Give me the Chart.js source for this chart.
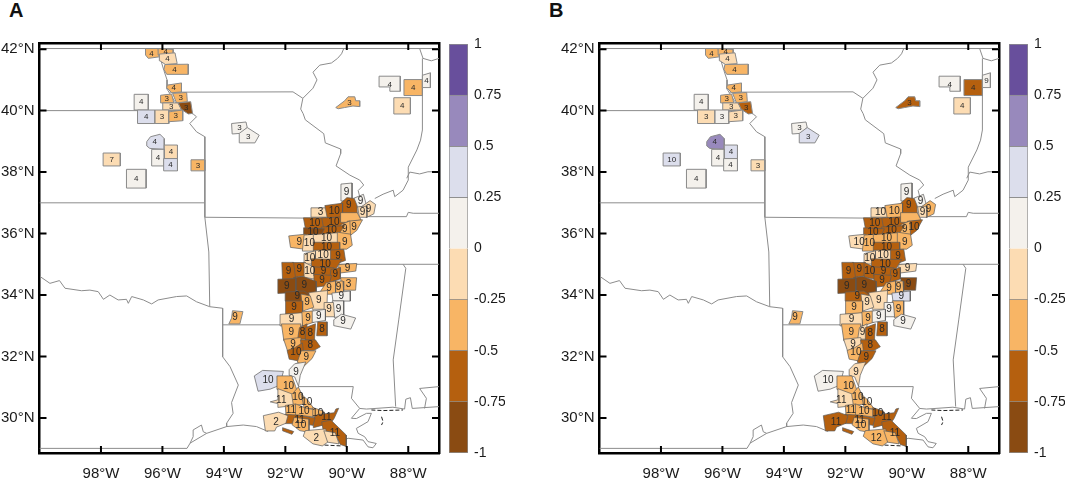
<!DOCTYPE html>
<html>
<head>
<meta charset="utf-8">
<script src="https://cdn.jsdelivr.net/npm/chart.js@4"></script>
<style>
  html, body { margin: 0; padding: 0; background: #fff; overflow: hidden; }
  body { position: relative; width: 1065px; height: 483px; font-family: "Liberation Sans", sans-serif; }
  canvas { position: absolute; top: 0; }
  .letra { position: absolute; top: 0; font: bold 20px/20px "Liberation Sans", sans-serif; color: #111; }
</style>
</head>
<body>
<div class="letra" style="left:9px">A</div>
<div class="letra" style="left:549px">B</div>
<canvas id="mapaA" width="445" height="483" style="left:0"></canvas>
<canvas id="barraA" width="56" height="483" style="left:449px"></canvas>
<canvas id="mapaB" width="445" height="483" style="left:560px"></canvas>
<canvas id="barraB" width="56" height="483" style="left:1009px"></canvas>
<script>
const lonTicks = [-98, -96, -94, -92, -90, -88]
const latTicks = [30, 32, 34, 36, 38, 40, 42]
const binEdges = [-1, -0.75, -0.5, -0.25, 0, 0.25, 0.5, 0.75, 1]
const binColors = ['#8a4b12', '#b5600f', '#f8b565', '#fcdcb3', '#f4f1ec', '#dcdeec', '#9889bc', '#684f9c']

// state lines and coast, [lon, lat]
const stateLines = [
  [[-100, 42.02], [-87, 42.02]],
  [[-100, 29.01], [-95.2, 29.01]],
  [[-100, 40], [-95.31, 40]],
  [[-100, 37], [-94.62, 37]],
  [[-96.2, 42.02], [-96.1, 41.8], [-95.95, 41.3], [-95.85, 41], [-95.85, 40.7], [-95.6, 40.3], [-95.31, 40], [-95, 39.89], [-94.89, 39.8], [-95.11, 39.58], [-94.89, 39.31], [-94.62, 39.15], [-94.62, 36.53], [-94.49, 35.4], [-94.46, 33.62]],
  [[-95.77, 40.6], [-91.75, 40.61], [-91.43, 40.4]],
  [[-90.1, 42.02], [-90.17, 41.85], [-90.3, 41.7], [-90.5, 41.55], [-90.88, 41.48], [-91.1, 41.25], [-90.97, 41], [-91.1, 40.73], [-91.43, 40.4], [-91.5, 40.05], [-91.42, 39.9], [-91.35, 39.7], [-90.75, 39.25], [-90.7, 38.95], [-90.2, 38.75], [-90.2, 38.6], [-90.35, 38.2], [-89.9, 37.9], [-89.58, 37.74], [-89.45, 37.58], [-89.63, 37.4], [-89.58, 37.2]],
  [[-89.09, 37.14], [-88.82, 37.28], [-88.49, 37.41], [-88.44, 37.2], [-88.17, 37.41], [-88, 37.74], [-88, 38.16], [-87.72, 38.72], [-87.6, 39.04], [-87.54, 39.37], [-87.54, 41.7]],
  [[-88.05, 37.8], [-87.95, 38], [-87.63, 37.94], [-87.36, 38.01], [-87, 38.01]],
  [[-87.63, 42.02], [-87.52, 41.7], [-87.25, 41.62], [-87, 41.7]],
  [[-89.3, 36.55], [-88.06, 36.55], [-88, 36.69], [-87.84, 36.66], [-87, 36.66]],
  [[-94.62, 36.53], [-91, 36.5]],
  [[-90.3, 35], [-87, 35]],
  [[-88.17, 35], [-88.08, 34.87], [-88.31, 33.19], [-88.49, 31.89], [-88.41, 30.37]],
  [[-99.98, 34.6], [-99.66, 34.38], [-99.35, 34.47], [-99.17, 34.22], [-98.63, 34.14], [-98.36, 34.16], [-98.09, 34.11], [-97.92, 33.86], [-97.71, 34], [-97.44, 33.84], [-97.17, 33.86], [-97.11, 33.73], [-97, 33.95], [-96.62, 33.84], [-96.35, 33.71], [-96.14, 33.84], [-95.54, 33.95], [-95.21, 33.97], [-94.89, 33.78], [-94.46, 33.62], [-94.04, 33.57], [-94.04, 31.99], [-93.8, 31.67], [-93.53, 31.07], [-93.75, 30.5], [-93.7, 30.15], [-93.91, 29.83], [-93.91, 29.72]],
  [[-94.04, 33.03], [-92, 33.03]],
  [[-95.2, 29.01], [-95.1, 29.18], [-94.56, 29.5], [-93.91, 29.72], [-93.37, 29.77], [-92.94, 29.72], [-92.56, 29.56]],
  [[-95.1, 29.18], [-95, 29.39], [-95, 29.61], [-94.73, 29.77], [-94.67, 29.55], [-94.56, 29.5]],
  [[-91.58, 31.02], [-89.79, 31.02], [-89.85, 30.64], [-89.58, 30.31], [-89.36, 30.29], [-88.5, 30.35], [-88.12, 30.29], [-88.08, 30.61], [-87.93, 30.66], [-87.87, 30.31], [-86.98, 30.37]],
  [[-87, 31.02], [-87.63, 30.96], [-87.41, 30.64], [-87.47, 30.31]],
  [[-89.58, 30.31], [-89.85, 29.99], [-89.69, 29.98], [-89.36, 30.15], [-89.2, 30.15], [-89.31, 29.88], [-89.69, 29.66], [-89.63, 29.5], [-89.42, 29.39], [-89.31, 29.23], [-89.04, 29.17], [-89.15, 29.03], [-89.31, 29.06], [-89.47, 29.28], [-89.96, 29.34], [-90.07, 29.28]]
]
const dashedLines = [
  [[-89.2, 30.26], [-88.82, 30.24], [-88.17, 30.26]],
  [[-88.87, 30.04], [-88.82, 29.88], [-88.87, 29.77]],
  [[-91.31, 29.56], [-91.09, 29.23], [-90.77, 29.12], [-90.17, 29.09]]
]

// county outlines, [lon, lat], same order as the value and label lists below
const countyShapes = [
  [[-96.55, 42.02], [-96.14, 42.02], [-96.1, 41.75], [-96.46, 41.7], [-96.55, 41.81]],
  [[-96.14, 42.02], [-95.65, 41.99], [-95.65, 41.84], [-96.14, 41.81]],
  [[-96.1, 41.84], [-95.59, 41.88], [-95.52, 41.53], [-95.9, 41.5], [-96.08, 41.62]],
  [[-95.92, 41.5], [-95.16, 41.51], [-95.16, 41.18], [-95.86, 41.18], [-95.95, 41.34]],
  [[-95.84, 40.83], [-95.38, 40.9], [-95.38, 40.61], [-95.7, 40.58], [-95.86, 40.75]],
  [[-96.06, 40.5], [-95.7, 40.54], [-95.63, 40.25], [-96.06, 40.25]],
  [[-95.67, 40.56], [-95.21, 40.59], [-95.19, 40.29], [-95.54, 40.25]],
  [[-95.99, 40.25], [-95.49, 40.25], [-95.38, 40.02], [-95.99, 40.02]],
  [[-95.49, 40.25], [-95.08, 40.29], [-95.02, 39.91], [-95.16, 39.89], [-95.38, 40.04]],
  [[-96.92, 40.53], [-96.46, 40.53], [-96.46, 40.02], [-96.92, 40.02]],
  [[-96.81, 40.02], [-96.24, 40.02], [-96.24, 39.58], [-96.81, 39.58]],
  [[-96.24, 40.02], [-95.79, 40.02], [-95.79, 39.58], [-96.24, 39.58]],
  [[-95.79, 39.96], [-95.34, 40.02], [-95.34, 39.67], [-95.79, 39.64]],
  [[-96.51, 38.99], [-96.39, 39.15], [-96.08, 39.23], [-95.94, 39.09], [-95.94, 38.74], [-96.41, 38.77], [-96.51, 38.85]],
  [[-95.94, 38.88], [-95.51, 38.88], [-95.51, 38.44], [-95.94, 38.44]],
  [[-96.35, 38.74], [-95.94, 38.74], [-95.94, 38.2], [-96.35, 38.2]],
  [[-95.96, 38.44], [-95.51, 38.44], [-95.51, 38.04], [-95.96, 38.04]],
  [[-97.93, 38.62], [-97.37, 38.62], [-97.37, 38.2], [-97.93, 38.2]],
  [[-97.17, 38.09], [-96.53, 38.09], [-96.53, 37.48], [-97.17, 37.48]],
  [[-95.07, 38.4], [-94.62, 38.4], [-94.62, 38.04], [-95.07, 38.04]],
  [[-93.75, 39.58], [-93.28, 39.63], [-93.24, 39.45], [-93.46, 39.26], [-93.73, 39.24]],
  [[-93.5, 39.26], [-93.24, 39.45], [-92.85, 39.2], [-92.99, 38.95], [-93.48, 38.95]],
  [[-90.36, 40.1], [-90.07, 40.32], [-89.96, 40.45], [-89.74, 40.45], [-89.71, 40.32], [-89.58, 40.32], [-89.58, 40.13], [-89.8, 40.15], [-90.07, 40.1], [-90.28, 40.06]],
  [[-88.95, 41.12], [-88.26, 41.12], [-88.26, 40.63], [-88.6, 40.63], [-88.6, 40.77], [-88.95, 40.77]],
  [[-88.14, 41.01], [-87.54, 41.01], [-87.54, 40.49], [-88.14, 40.49]],
  [[-88.47, 40.42], [-87.93, 40.42], [-87.93, 39.89], [-88.47, 39.89]],
  [[-87.54, 41.15], [-87.28, 41.23], [-87.28, 40.75], [-87.54, 40.75]],
  [[-93.72, 33.49], [-93.38, 33.46], [-93.48, 33.06], [-93.84, 33.06], [-93.75, 33.25]],

  [[-90.17, 37.58], [-89.85, 37.61], [-89.85, 37.11], [-90.17, 37.09]],
  [[-90.17, 36.98], [-89.99, 37.14], [-89.71, 37.11], [-89.69, 36.68], [-90.12, 36.66]],
  [[-89.74, 37.14], [-89.47, 37.25], [-89.38, 36.93], [-89.63, 36.87]],
  [[-89.49, 36.87], [-89.25, 37.04], [-89.09, 36.93], [-89.14, 36.66], [-89.36, 36.55], [-89.45, 36.71]],
  [[-89.63, 36.85], [-89.38, 36.87], [-89.36, 36.55], [-89.58, 36.55]],
  [[-91.13, 36.82], [-90.58, 36.82], [-90.58, 36.55], [-91.13, 36.55]],
  [[-90.68, 36.89], [-90.17, 36.96], [-90.17, 36.55], [-90.61, 36.53]],
  [[-91.37, 36.49], [-90.72, 36.49], [-90.77, 36.17], [-91.31, 36.17]],
  [[-90.77, 36.49], [-90.07, 36.53], [-90.12, 36.22], [-90.72, 36.22]],
  [[-90.17, 36.66], [-89.69, 36.66], [-89.58, 36.45], [-90, 36.38], [-90.17, 36.38]],
  [[-89.96, 36.38], [-89.52, 36.42], [-89.69, 36.11], [-89.9, 35.95]],
  [[-90.17, 36.28], [-89.92, 36.38], [-89.9, 35.95], [-90.28, 36.01]],
  [[-90.79, 36.2], [-90.12, 36.24], [-90.28, 36.01], [-90.82, 35.95]],
  [[-91.37, 36.17], [-90.77, 36.14], [-90.88, 35.92], [-91.37, 35.9]],
  [[-91.85, 35.9], [-91.37, 35.95], [-91.31, 35.68], [-91.42, 35.52], [-91.8, 35.57]],
  [[-91.37, 35.92], [-91.04, 35.95], [-91.04, 35.46], [-91.42, 35.46]],
  [[-91.04, 35.95], [-90.28, 36.01], [-90.28, 35.7], [-91.04, 35.7]],
  [[-90.28, 36.01], [-89.9, 35.95], [-89.85, 35.63], [-90.01, 35.52], [-90.28, 35.52]],
  [[-91.04, 35.7], [-90.28, 35.7], [-90.28, 35.44], [-91.04, 35.44]],
  [[-91.04, 35.44], [-90.5, 35.44], [-90.5, 35.16], [-91.04, 35.16]],
  [[-90.5, 35.44], [-90.12, 35.46], [-90.07, 35.14], [-90.23, 35.08], [-90.5, 35.16]],
  [[-91.37, 35.33], [-91.04, 35.41], [-91.04, 35.03], [-91.37, 35.03]],
  [[-91.1, 35.16], [-90.23, 35.14], [-90.39, 34.87], [-91.1, 34.9]],
  [[-90.23, 34.98], [-89.71, 35.01], [-89.74, 34.79], [-90.23, 34.73]],
  [[-91.75, 35.03], [-91.37, 35.03], [-91.37, 34.65], [-91.69, 34.6]],
  [[-92.09, 35.03], [-91.75, 35.03], [-91.69, 34.54], [-92.07, 34.54]],
  [[-91.37, 35.03], [-91.04, 34.87], [-91.04, 34.54], [-91.37, 34.6]],
  [[-91.04, 34.9], [-90.45, 34.87], [-90.5, 34.65], [-91.04, 34.65]],
  [[-90.5, 34.81], [-90.23, 34.87], [-90.23, 34.54], [-90.55, 34.43]],
  [[-91.04, 34.65], [-90.53, 34.62], [-90.61, 34.33], [-91.04, 34.27]],
  [[-90.17, 34.54], [-89.71, 34.54], [-89.74, 34.18], [-90.14, 34.18]],
  [[-90.42, 34.43], [-90.14, 34.43], [-90.12, 34.05], [-90.39, 34.05]],
  [[-90.66, 34.38], [-90.39, 34.43], [-90.39, 34.05], [-90.88, 34.05]],
  [[-91.69, 34.54], [-91.42, 34.57], [-91.04, 34.43], [-91.04, 34.05], [-91.42, 34.05], [-91.69, 34.22]],
  [[-92.21, 34.49], [-91.69, 34.51], [-91.69, 34.11], [-92.21, 34.08]],
  [[-91.96, 34.08], [-91.42, 34.11], [-91.26, 34], [-91.47, 33.78], [-91.94, 33.82]],
  [[-90.45, 34.05], [-89.92, 34.11], [-89.92, 33.82], [-90.42, 33.82]],
  [[-91.2, 34.05], [-90.66, 34.11], [-90.68, 33.57], [-91.1, 33.57]],
  [[-91.47, 34], [-91.2, 33.95], [-91.1, 33.62], [-91.42, 33.51]],
  [[-90.45, 33.78], [-90.12, 33.78], [-90.12, 33.35], [-90.39, 33.3]],
  [[-90.72, 33.73], [-90.45, 33.73], [-90.42, 33.32], [-90.72, 33.32]],
  [[-91.96, 33.78], [-91.47, 33.78], [-91.47, 33.43], [-91.96, 33.4]],
  [[-92.13, 33.35], [-91.47, 33.4], [-91.47, 33.02], [-92.13, 33.02]],
  [[-91.44, 33.43], [-91.1, 33.46], [-91.1, 33.13], [-91.42, 33.02]],
  [[-91.1, 33.46], [-90.72, 33.51], [-90.72, 33.19], [-91.1, 33.13]],
  [[-90.39, 33.19], [-90.17, 33.35], [-89.76, 33.24], [-89.9, 32.92], [-90.39, 33.02]],
  [[-90.93, 33.1], [-90.66, 33.1], [-90.66, 32.7], [-90.96, 32.7]],

  [[-92.09, 33.03], [-91.53, 33.03], [-91.58, 32.59], [-92.02, 32.54]],
  [[-91.53, 32.92], [-91.31, 33.03], [-91.33, 32.59], [-91.58, 32.59]],
  [[-91.33, 32.92], [-91.04, 33.03], [-91.07, 32.54], [-91.33, 32.56]],
  [[-92.02, 32.54], [-91.53, 32.59], [-91.47, 32.38], [-91.8, 32.21], [-91.91, 32.21]],
  [[-91.47, 32.52], [-91.04, 32.52], [-90.9, 32.32], [-91.09, 32.21], [-91.44, 32.21]],
  [[-91.91, 32.19], [-91.69, 32.27], [-91.47, 32.41], [-91.44, 32.16], [-91.58, 31.89], [-91.85, 31.94]],
  [[-91.47, 32.16], [-91.04, 32.16], [-91.15, 31.94], [-91.37, 31.73], [-91.58, 31.83]],
  [[-91.85, 31.56], [-91.69, 31.73], [-91.37, 31.78], [-91.53, 31.4], [-91.58, 31.08], [-91.69, 31.35], [-91.85, 31.4]],
  [[-92.96, 31.35], [-92.72, 31.51], [-92.12, 31.48], [-92.23, 31.08], [-92.5, 30.97], [-92.85, 30.91]],
  [[-92.23, 31.33], [-91.8, 31.33], [-91.69, 31.02], [-91.62, 30.81], [-91.8, 30.75], [-92.23, 30.94]],
  [[-92.23, 30.91], [-91.8, 30.75], [-91.75, 30.43], [-92.23, 30.37], [-92.23, 30.48], [-92.45, 30.53], [-92.23, 30.59]],
  [[-91.77, 30.75], [-91.58, 30.97], [-91.47, 30.75], [-91.42, 30.48], [-91.72, 30.43]],
  [[-91.47, 30.75], [-91.29, 30.59], [-91.09, 30.32], [-91.37, 30.32]],
  [[-91.98, 30.39], [-91.69, 30.43], [-91.64, 30.1], [-91.96, 30.1]],
  [[-91.64, 30.43], [-91.37, 30.32], [-91.09, 30.26], [-91.09, 30.05], [-91.53, 30.1], [-91.64, 30.1]],
  [[-91.09, 30.32], [-90.77, 30.21], [-90.82, 30.05], [-91.09, 30.05]],
  [[-90.93, 30.1], [-90.44, 30.15], [-90.39, 30.26], [-90.31, 30.28], [-90.44, 29.99], [-90.55, 29.83], [-90.82, 29.78], [-91.04, 29.72], [-91.04, 29.99]],
  [[-91.96, 30.1], [-91.53, 30.07], [-91.09, 29.99], [-91.15, 29.78], [-91.53, 29.83], [-91.96, 29.83]],
  [[-90.77, 29.83], [-90.5, 29.88], [-90.06, 29.45], [-90.06, 29.12], [-90.23, 29.18], [-90.39, 29.5], [-90.72, 29.56]],
  [[-91.69, 29.99], [-91.26, 29.94], [-91.26, 29.56], [-91.53, 29.61], [-91.75, 29.78]],
  [[-92.67, 30.05], [-92.23, 30.15], [-91.96, 30.05], [-92.02, 29.83], [-92.29, 29.72], [-92.34, 29.61], [-92.61, 29.61]],
  [[-92.07, 29.67], [-91.75, 29.56], [-91.8, 29.48], [-92.07, 29.58]],
  [[-91.31, 29.56], [-90.72, 29.61], [-90.66, 29.23], [-90.82, 29.12], [-91.09, 29.18], [-91.37, 29.4]],
  [[-90.72, 29.56], [-90.39, 29.5], [-90.28, 29.18], [-90.61, 29.23]]
]

const valuesA = [
  -0.35, -0.35, -0.1, -0.35, -0.35, -0.35, -0.35, -0.1, -0.85, 0.1,
  0.35, -0.1, -0.35, 0.35, -0.1, 0.1, 0.35, -0.1, 0.1, -0.35,
  0.1, 0.1, -0.35, 0.1, -0.35, -0.1, 0.1, -0.35,

  0.1, -0.6, 0.1, -0.1, -0.1, -0.1, -0.6, -0.6, -0.6, -0.35,
  -0.35, -0.35, -0.6, -0.85, -0.35, -0.1, -0.1, -0.35, -0.6, -0.1,
  -0.6, -0.1, -0.6, -0.35, -0.6, -0.6, -0.1, -0.6, -0.6, -0.6,
  -0.35, -0.35, -0.35, -0.85, -0.85, -0.85, 0.1, -0.1, -0.35, 0.1,
  -0.1, -0.6, -0.1, -0.35, 0.1, 0.1, -0.6,

  -0.35, -0.6, -0.6, -0.35, -0.6, -0.6, -0.35, 0.1, 0.35, -0.35,
  -0.1, -0.35, -0.35, -0.35, -0.35, -0.35, -0.6, -0.6, -0.6, -0.35,
  -0.1, -0.6, -0.1, -0.1
]
const valuesB = [
  -0.35, -0.35, -0.1, -0.35, -0.35, -0.35, -0.35, -0.1, -0.6, 0.1,
  -0.1, 0.1, -0.1, 0.6, 0.35, 0.1, 0.1, 0.35, 0.1, -0.1,
  0.1, 0.35, -0.6, 0.1, -0.6, -0.1, 0.1, -0.35,

  0.1, -0.6, 0.1, -0.35, -0.1, -0.1, -0.35, -0.6, -0.6, -0.35,
  -0.6, -0.35, -0.6, -0.6, -0.1, -0.35, -0.35, -0.35, -0.6, -0.1,
  -0.6, -0.1, -0.6, -0.1, -0.6, -0.6, -0.6, -0.6, -0.6, -0.6,
  -0.85, -0.35, -0.35, -0.85, -0.85, -0.6, 0.35, -0.1, -0.1, -0.35,
  0.1, -0.35, -0.1, -0.35, 0.1, 0.1, -0.6,

  -0.35, -0.1, -0.6, -0.1, -0.6, -0.35, -0.6, -0.1, 0.1, -0.35,
  -0.1, -0.35, -0.35, -0.35, -0.35, -0.6, -0.6, -0.6, -0.6, -0.35,
  -0.6, -0.6, -0.35, -0.35
]
const labelsA = [
  '4', '4', '4', '4', '4', '3', '3', '3', '3', '4',
  '4', '3', '3', '4', '4', '4', '4', '7', '4', '3',
  '3', '3', '3', '4', '4', '4', '4', '9',

  '9', '9', '9', '9', '9', '3', '10', '10', '10', '',
  '9', '9', '10', '10', '9', '10', '10', '9', '10', '10',
  '9', '10', '10', '9', '9', '9', '10', '9', '9', '9',
  '3', '9', '9', '9', '9', '9', '9', '9', '9', '9',
  '9', '9', '9', '9', '9', '9', '8',

  '9', '8', '8', '9', '8', '10', '9', '9', '10', '10',
  '11', '10', '10', '11', '10', '10', '11', '11', '11', '10',
  '2', '', '2', ''
]
const labelsB = [
  '4', '4', '4', '4', '4', '3', '3', '3', '3', '4',
  '3', '3', '3', '4', '4', '4', '4', '10', '4', '3',
  '3', '3', '3', '4', '4', '4', '9', '9',

  '9', '9', '9', '9', '9', '10', '10', '10', '10', '',
  '10', '9', '10', '10', '10', '10', '10', '9', '10', '10',
  '9', '10', '10', '9', '9', '9', '10', '9', '9', '9',
  '9', '9', '9', '9', '9', '9', '9', '9', '9', '9',
  '9', '9', '9', '9', '9', '9', '8',

  '9', '9', '8', '9', '8', '10', '9', '9', '10', '10',
  '11', '10', '10', '11', '10', '10', '11', '11', '11', '10',
  '11', '', '12', ''
]

const fonte = '"Liberation Sans", sans-serif'
const primeiraDensa = 28 // from here on the counties touch each other

const corDoValor = (v) => {
  for (let i = 0; i < binColors.length; i++) {
    if (v <= binEdges[i + 1]) return binColors[i]
  }
  return binColors[binColors.length - 1]
}
const pontos = (linha) => linha.map(p => ({ x: p[0], y: p[1] }))
const media = (forma, k) => forma.reduce((s, p) => s + p[k], 0) / forma.length

// my outlines were read by eye and leave slivers, push them out a bit
const fechaVaos = (forma) => {
  const lon = media(forma, 0)
  const lat = media(forma, 1)
  return forma.map(p => [lon + (p[0] - lon) * 1.13, lat + (p[1] - lat) * 1.13])
}

// county numbers, placed at the mean of each outline
const rotulos = (labels) => ({
  id: 'rotulos',
  afterDatasetsDraw(chart) {
    const ctx = chart.ctx
    ctx.save()
    ctx.textAlign = 'center'
    ctx.textBaseline = 'middle'
    ctx.fillStyle = '#2a2a2a'
    countyShapes.forEach((forma, i) => {
      if (!labels[i]) return
      const lat = media(forma, 1)
      ctx.font = (lat > 37.7 ? 8 : 10) + 'px ' + fonte
      ctx.fillText(labels[i], chart.scales.x.getPixelForValue(media(forma, 0)), chart.scales.y.getPixelForValue(lat))
    })
    ctx.restore()
  }
})

// ticks point inwards on all four sides
const marcasInternas = {
  id: 'marcasInternas',
  afterDraw(chart) {
    const { ctx, chartArea: a, scales } = chart
    ctx.save()
    ctx.strokeStyle = '#000'
    ctx.lineWidth = 2
    ctx.beginPath()
    lonTicks.forEach(v => {
      const x = scales.x.getPixelForValue(v)
      ctx.moveTo(x, a.bottom); ctx.lineTo(x, a.bottom - 7)
      ctx.moveTo(x, a.top); ctx.lineTo(x, a.top + 7)
    })
    latTicks.forEach(v => {
      const y = scales.y.getPixelForValue(v)
      ctx.moveTo(a.left, y); ctx.lineTo(a.left + 7, y)
      ctx.moveTo(a.right, y); ctx.lineTo(a.right - 7, y)
    })
    ctx.stroke()
    ctx.restore()
  }
}

const semGrade = { drawOnChartArea: false, drawTicks: false }
const moldura = { color: '#000', width: 2.5 }
const tamanho = (prop, valor) => (scale) => { scale[prop] = valor }
const marcas = (lista) => (scale) => { scale.ticks = lista.map(v => ({ value: v })) }

const desenhaMapa = (id, valores, labels) => {
  const datasets = []
  stateLines.forEach(l => datasets.push({
    data: pontos(l), showLine: true, pointRadius: 0, borderColor: '#8c8c8c', borderWidth: 1, fill: false, order: 1000
  }))
  dashedLines.forEach(l => datasets.push({
    data: pontos(l), showLine: true, pointRadius: 0, borderColor: '#222', borderWidth: 1, borderDash: [4, 2], fill: false, order: 999
  }))
  countyShapes.forEach((forma, i) => {
    const contorno = i < primeiraDensa ? forma : fechaVaos(forma)
    datasets.push({
      data: pontos(contorno.concat([contorno[0]])),
      showLine: true, pointRadius: 0, fill: 'shape',
      backgroundColor: corDoValor(valores[i]),
      borderColor: i < primeiraDensa ? '#8a8a8a' : '#5a5a5a',
      borderWidth: i < primeiraDensa ? 1 : 0.7,
      order: countyShapes.length - i
    })
  })
  return new Chart(document.getElementById(id), {
    type: 'scatter',
    data: { datasets },
    plugins: [rotulos(labels), marcasInternas],
    options: {
      responsive: false,
      animation: false,
      layout: { padding: 0 },
      plugins: { legend: { display: false }, tooltip: { enabled: false } },
      scales: {
        x: {
          type: 'linear', position: 'bottom', min: -100, max: -87,
          afterBuildTicks: marcas(lonTicks), afterFit: tamanho('height', 30),
          grid: semGrade, border: moldura,
          ticks: {
            padding: 12, color: '#1a1a1a', font: { family: fonte, size: 15 }, maxRotation: 0, autoSkip: false,
            callback: v => (-v) + '°W'
          }
        },
        y: {
          type: 'linear', position: 'left', min: 28.86, max: 42.2,
          afterBuildTicks: marcas(latTicks), afterFit: tamanho('width', 39.5),
          grid: semGrade, border: moldura,
          ticks: {
            padding: 5, color: '#1a1a1a', font: { family: fonte, size: 15 }, autoSkip: false,
            callback: v => v + '°N'
          }
        },
        xTopo: {
          type: 'linear', axis: 'x', position: 'top', min: -100, max: -87,
          afterFit: tamanho('height', 43),
          grid: semGrade, border: moldura, ticks: { display: false }
        },
        yDireita: {
          type: 'linear', axis: 'y', position: 'right', min: 28.86, max: 42.2,
          afterFit: tamanho('width', 6),
          grid: semGrade, border: moldura, ticks: { display: false }
        }
      }
    }
  })
}

const desenhaBarra = (id) => new Chart(document.getElementById(id), {
  type: 'bar',
  data: {
    labels: [''],
    datasets: binColors.map((cor, i) => ({
      data: [[binEdges[i], binEdges[i + 1]]],
      backgroundColor: cor, borderColor: '#8f8f8f', borderWidth: 1,
      barPercentage: 1, categoryPercentage: 1, grouped: false
    }))
  },
  options: {
    responsive: false,
    animation: false,
    layout: { padding: { top: 44, bottom: 30 } },
    plugins: { legend: { display: false }, tooltip: { enabled: false } },
    scales: {
      x: { display: false },
      y: {
        position: 'right', min: -1, max: 1,
        afterBuildTicks: marcas(binEdges),
        afterFit: tamanho('width', 37),
        grid: { display: false, drawTicks: false },
        border: { display: false },
        ticks: {
          padding: 6, color: '#1a1a1a', crossAlign: 'near', autoSkip: false,
          font: { family: fonte, size: 14 },
          callback: v => String(v)
        }
      }
    }
  }
})

desenhaMapa('mapaA', valuesA, labelsA)
desenhaMapa('mapaB', valuesB, labelsB)
desenhaBarra('barraA')
desenhaBarra('barraB')
</script>
</body>
</html>
